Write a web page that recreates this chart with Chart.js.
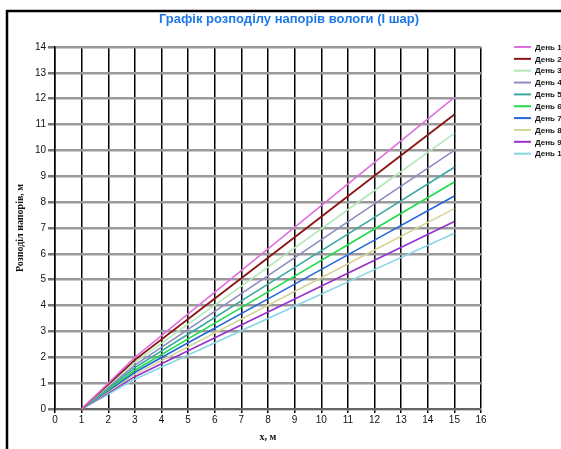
<!DOCTYPE html>
<html>
<head>
<meta charset="utf-8">
<script src="https://cdn.jsdelivr.net/npm/chart.js@4/dist/chart.umd.min.js"></script>
<style>
  html, body { margin: 0; padding: 0; background: #fff; }
  #wrap { width: 561px; height: 449px; }
</style>
</head>
<body>
<div id="wrap"><canvas id="headChart" width="561" height="449"></canvas></div>
<script>
// x positions (m) where heads were read
const xs = [1, 3, 5, 8, 12, 15];

// head values per day, m
const day1 = [0, 2.00, 3.68, 6.19, 9.54, 12.05];
const day2 = [0, 1.90, 3.48, 5.85, 9.02, 11.39];
const day3 = [0, 1.80, 3.28, 5.49, 8.45, 10.66];
const day4 = [0, 1.70, 3.08, 5.16, 7.93, 10.00];
const day5 = [0, 1.60, 2.89, 4.83, 7.41, 9.35];
const day6 = [0, 1.50, 2.71, 4.53, 6.96, 8.78];
const day7 = [0, 1.42, 2.56, 4.26, 6.53, 8.24];
const day8 = [0, 1.34, 2.41, 4.01, 6.15, 7.75];
const day9 = [0, 1.25, 2.25, 3.75, 5.75, 7.25];
const day10 = [0, 1.15, 2.09, 3.50, 5.39, 6.80];

const seriesNames = ['День 1', 'День 2', 'День 3', 'День 4', 'День 5',
                     'День 6', 'День 7', 'День 8', 'День 9', 'День 10'];
const seriesValues = [day1, day2, day3, day4, day5, day6, day7, day8, day9, day10];
const seriesColors = ['#e070dc', '#8b1414', '#b4e8b8', '#8c8cc4', '#3aa8a0',
                      '#1edc4a', '#2466dc', '#d4d49a', '#9a30cc', '#86d6e6'];

const NARROW = '"Liberation Sans Narrow", "Liberation Sans", Arial, sans-serif';

const datasets = seriesValues.map(function (vals, i) {
    return {
        label: seriesNames[i],
        data: vals.map(function (v, j) { return { x: xs[j], y: v }; }),
        borderColor: seriesColors[i],
        backgroundColor: seriesColors[i],
        borderWidth: i === 1 ? 1.8 : 1.6,
        pointRadius: 0,
        showLine: true,
        tension: 0
    };
});

// frame, title and legend drawn straight onto the canvas
const decorations = {
    id: 'decorations',
    beforeDraw: function (chart) {
        const ctx = chart.ctx;
        ctx.save();
        ctx.fillStyle = '#fff';
        ctx.fillRect(0, 0, chart.width, chart.height);
        ctx.strokeStyle = '#000';
        ctx.lineWidth = 2.5;
        ctx.beginPath();
        ctx.moveTo(7, chart.height);
        ctx.lineTo(7, 11);
        ctx.lineTo(chart.width, 11);
        ctx.stroke();
        ctx.restore();
    },
    afterDraw: function (chart) {
        const ctx = chart.ctx;
        ctx.save();
        ctx.fillStyle = '#1e78e8';
        ctx.font = 'bold 13px ' + NARROW;
        ctx.textAlign = 'center';
        ctx.textBaseline = 'middle';
        ctx.fillText('Графік розподілу напорів вологи (І шар)', 289, 19);

        ctx.font = 'bold 8px ' + NARROW;
        ctx.textAlign = 'left';
        chart.data.datasets.forEach(function (ds, i) {
            const y = 47 + i * 11.85;
            ctx.strokeStyle = ds.borderColor;
            ctx.lineWidth = 2;
            ctx.beginPath();
            ctx.moveTo(514, y);
            ctx.lineTo(531, y);
            ctx.stroke();
            ctx.fillStyle = '#111';
            ctx.fillText(ds.label, 535, y + 0.5);
        });
        ctx.restore();
    }
};

new Chart(document.getElementById('headChart'), {
    type: 'scatter',
    data: { datasets: datasets },
    plugins: [decorations],
    options: {
        responsive: false,
        devicePixelRatio: 1,
        animation: false,
        layout: { padding: { left: 8, right: 80, top: 47, bottom: 2 } },
        plugins: {
            legend: { display: false },
            title: { display: false },
            tooltip: { enabled: false }
        },
        scales: {
            x: {
                type: 'linear',
                min: 0,
                max: 16,
                afterFit: function (scale) { scale.height = 38; },
                ticks: {
                    stepSize: 1,
                    color: '#111',
                    padding: 1,
                    font: { family: NARROW, size: 10 }
                },
                grid: {
                    color: '#000',
                    lineWidth: 1.5,
                    tickLength: 4,
                    tickColor: '#000'
                },
                border: { color: '#666', width: 2 },
                title: {
                    display: true,
                    text: 'х, м',
                    color: '#111',
                    padding: { top: 11 },
                    font: { family: '"Liberation Serif", serif', size: 10, weight: 'bold' }
                }
            },
            y: {
                type: 'linear',
                min: 0,
                max: 14,
                afterFit: function (scale) { scale.width = 47; },
                ticks: {
                    stepSize: 1,
                    color: '#111',
                    padding: 2,
                    font: { family: NARROW, size: 10 }
                },
                grid: {
                    color: '#9a9a9a',
                    lineWidth: 2.5,
                    tickLength: 7,
                    tickColor: '#777'
                },
                border: { color: '#000', width: 1.5 },
                title: {
                    display: true,
                    text: 'Розподіл напорів, м',
                    color: '#111',
                    padding: { top: 6, bottom: 0 },
                    font: { family: '"Liberation Serif", serif', size: 10, weight: 'bold' }
                }
            }
        }
    }
});
</script>
</body>
</html>
